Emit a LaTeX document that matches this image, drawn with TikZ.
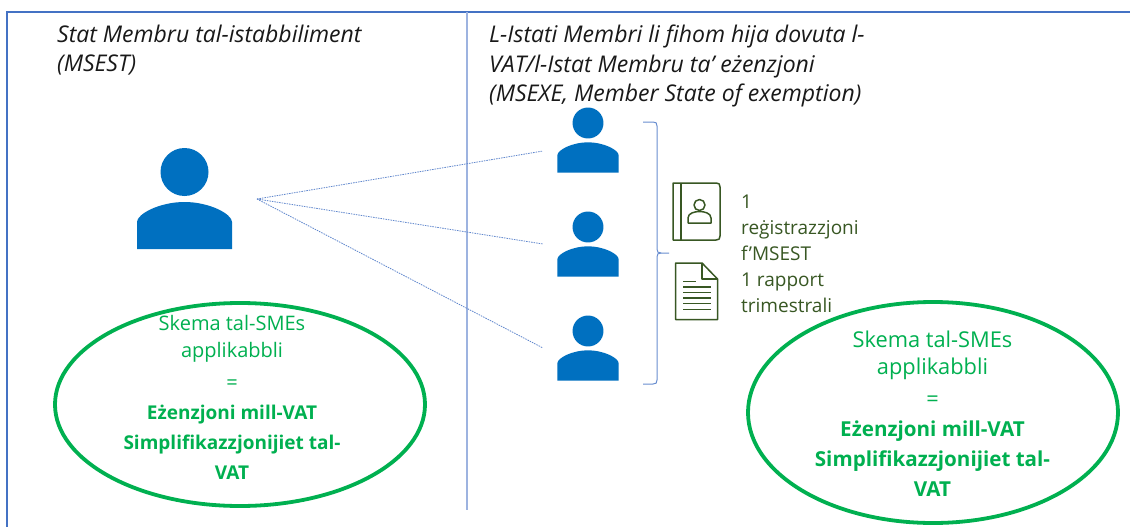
\documentclass[tikz,border=0pt]{standalone}
\usepackage{fontspec}
\setmainfont{Open Sans}
\usetikzlibrary{shapes.geometric}
\definecolor{frameblue}{HTML}{4472C4}
\definecolor{divblue}{HTML}{9DB3E0}
\definecolor{personblue}{HTML}{0070C0}
\definecolor{skemagreen}{HTML}{00B050}
\definecolor{darkgreen}{HTML}{385723}
\tikzset{
  frameline/.style={draw=frameblue,line width=1.6pt},
  divline/.style={draw=divblue,line width=1.2pt},
  fanline/.style={draw=frameblue!85,line width=0.8pt,dash pattern=on 1.5pt off 1pt},
  bracket/.style={draw=frameblue!80,line width=1pt},
  iconline/.style={draw=darkgreen,line width=1.5pt,line join=round},
  heading/.style={anchor=north west,align=left,inner sep=0pt,font=\fontsize{23}{29.3}\selectfont\itshape,text=black!90},
  schemeoval/.style={ellipse,draw=skemagreen,line width=3.8pt,inner sep=0pt},
  schemetext/.style={align=center,inner sep=0pt,text=skemagreen},
  notetext/.style={anchor=north west,align=left,inner sep=0pt,text=darkgreen,font=\fontsize{19}{26}\selectfont},
}
% #1 name prefix, #2 centre x, #3 head centre y, #4 scale
\newcommand{\personicon}[4]{%
  \begin{scope}[shift={(#2,#3)},scale=#4]
    \fill[personblue] (0,0) ellipse [x radius=24,y radius=24];
    \fill[personblue] (-47.5,77) -- (-47.5,50) .. controls (-47.5,42) and (-25,30) .. (0,30)
       .. controls (25,30) and (47.5,42) .. (47.5,50) -- (47.5,77) -- cycle;
  \end{scope}}
\begin{document}
\begin{tikzpicture}[x=1pt,y=-1pt]
\useasboundingbox (0,0) rectangle (1130,527);
\fill[white] (0,0) rectangle (1130,527);
% frame
\coordinate (frameBL) at (7,527);
\coordinate (frameTL) at (7,12);
\coordinate (frameTR) at (1130,12);
\draw[frameline] (frameBL) -- (frameTL) -- (frameTR);
\coordinate (divT) at (467,12);
\coordinate (divB) at (467,510);
\draw[divline] (divT) -- (divB);
% headings
\node[heading] (headL) at (57,25) {Stat Membru tal-istabbiliment\\(MSEST)};
\node[heading] (headR) at (489,25) {L-Istati Membri li fihom hija dovuta l-\\VAT/l-Istat Membru ta’ eżenzjoni\\(MSEXE, Member State of exemption)};
% persons
\personicon{big}{184.5}{172}{1}
\personicon{p1}{588}{123}{0.645}
\personicon{p2}{588}{227}{0.645}
\personicon{p3}{588}{331}{0.645}
% fan
\coordinate (fan) at (257,199);
\coordinate (fan1) at (543,151);
\coordinate (fan2) at (543,244);
\coordinate (fan3) at (543,348);
\draw[fanline] (fan) -- (fan1);
\draw[fanline] (fan) -- (fan2);
\draw[fanline] (fan) -- (fan3);
% bracket
\coordinate (brT) at (643,122);
\coordinate (brM) at (669,253);
\coordinate (brB) at (643,384);
\draw[bracket] (brT) -- (653,122) .. controls (656,122) and (657,123) .. (657,126) -- (657,249)
  .. controls (657,252) and (658,253) .. (661,253) -- (brM);
\draw[bracket] (brB) -- (653,384) .. controls (656,384) and (657,383) .. (657,380) -- (657,257)
  .. controls (657,254) and (658,253) .. (661,253);
% book icon
\draw[iconline] (673,183) -- (716,183) .. controls (719,183) and (720,184) .. (720,187) -- (720,236)
  .. controls (720,239) and (719,240) .. (716,240) -- (673,240) -- cycle;
\draw[iconline] (681,183) -- (681,240);
\draw[iconline] (699.5,205) circle [radius=5.5];
\draw[iconline] (688,223) -- (711,223) -- (711,218) .. controls (711,213) and (704,211.5) .. (699.5,211.5)
  .. controls (695,211.5) and (688,213) .. (688,218) -- cycle;
% document icon
\draw[iconline] (675.5,263) -- (702,263) -- (717.5,279) -- (717.5,319.5) -- (675.5,319.5) -- cycle;
\draw[iconline] (702,263) -- (702,279) -- (717.5,279);
\draw[iconline] (683,281.5) -- (696,281.5);
\draw[iconline] (683,287) -- (711,287);
\draw[iconline] (683,292.5) -- (711,292.5);
\draw[iconline] (683,298) -- (711,298);
\draw[iconline] (683,303.5) -- (711,303.5);
\draw[iconline] (683,309.5) -- (711,309.5);
% notes
\node[notetext] (note) at (741,195) {1\\reġistrazzjoni\\f’MSEST\\1 rapport\\trimestrali};
% ovals
\node[schemeoval,minimum width=370pt,minimum height=203pt] (ovalL) at (240,404.5) {};
\node[schemeoval,minimum width=370pt,minimum height=221pt] (ovalR) at (933,412.5) {};
\node[schemetext,font=\fontsize{20}{30}\selectfont] (textL) at (232,397) {Skema tal-SMEs\\[-3pt]applikabbli\\[2pt]=\\{\fontsize{19}{30}\selectfont\textbf{Eżenzjoni mill-VAT}}\\{\fontsize{19}{30}\selectfont\textbf{Simplifikazzjonijiet tal-}}\\{\fontsize{19}{30}\selectfont\textbf{VAT}}};
\node[schemetext,font=\fontsize{21.8}{30}\selectfont] (textR) at (932.5,414) {Skema tal-SMEs\\[-3pt]applikabbli\\[2pt]=\\{\fontsize{20.6}{30}\selectfont\textbf{Eżenzjoni mill-VAT}}\\{\fontsize{20.6}{30}\selectfont\textbf{Simplifikazzjonijiet tal-}}\\{\fontsize{20.6}{30}\selectfont\textbf{VAT}}};
\end{tikzpicture}
\end{document}
